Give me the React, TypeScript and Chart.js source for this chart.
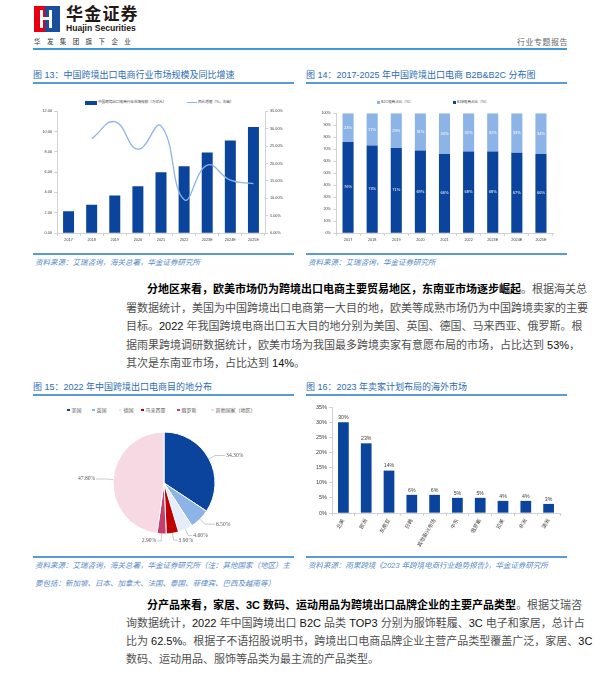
import React, { useEffect, useRef } from 'react';
import { Chart, registerables } from 'chart.js';

Chart.register(...registerables);

// ---------- data ----------
const years = ['2017', '2018', '2019', '2020', '2021', '2022', '2023E', '2024E', '2025E'];
const marketSize = [2.15, 2.78, 3.69, 4.61, 6.0, 6.59, 7.93, 9.13, 10.44];
const growthRate = [null, 27.1, 32.0, 24.1, 30.8, 9.6, 19.5, 15.2, 14.2];

const b2bShare = [76, 73, 71, 69, 66, 68, 68, 67, 66];
const b2cShare = [24, 27, 29, 31, 34, 32, 32, 33, 34];

const destinations = ['美国', '英国', '德国', '马来西亚', '俄罗斯', '其他国家（地区）'];
const destinationShare = [34.3, 6.5, 4.6, 3.9, 2.9, 47.8];

const markets = ['北美', '欧洲', '东南亚', '日韩', '其他新兴市场', '中东', '俄罗斯', '拉美', '非洲', '澳洲'];
const marketShare = [30, 23, 14, 6, 6, 5, 5, 4, 4, 3];

// ---------- styles ----------
const DARK = '#0a449c';
const LIGHT = '#8db4e6';
const PIE_COLORS = ['#0a449c', '#8db4e6', '#e4edf9', '#c00000', '#c63f6c', '#f7d9e3'];
const AXIS = '#bfbfbf';
const TICK = '#404040';
const LATIN = '"Liberation Sans", "Noto Sans CJK SC", sans-serif';
const CJK = '"Liberation Sans", "Noto Sans CJK SC", sans-serif';
const TITLE_BLUE = '#2b6cb3';
const LINE_BLUE = '#5b9bd5';
const SRC_BLUE = '#5a8bc6';

// ---------- plugins ----------
const valueLabelPlugin = {
  id: 'valueLabels',
  afterDatasetsDraw(chart: any, _args: any, opts: any) {
    if (!opts || !opts.enabled) return;
    const ctx = chart.ctx;
    ctx.save();
    ctx.font = `${opts.size}px ${LATIN}`;
    ctx.fillStyle = opts.color;
    ctx.textAlign = 'center';
    chart.data.datasets.forEach((ds: any, di: number) => {
      const meta = chart.getDatasetMeta(di);
      meta.data.forEach((el: any, i: number) => {
        const v = ds.data[i];
        const p = el.getProps(['x', 'y', 'base'], true);
        if (opts.position === 'center') {
          ctx.textBaseline = 'middle';
          ctx.fillText(v + '%', p.x, (p.y + p.base) / 2);
        } else {
          ctx.textBaseline = 'bottom';
          ctx.fillText(v + '%', p.x, p.y - 2);
        }
      });
    });
    ctx.restore();
  },
};

const pieLabelPlugin = {
  id: 'pieLabels',
  afterDatasetsDraw(chart: any, _args: any, opts: any) {
    if (!opts || !opts.enabled) return;
    const ctx = chart.ctx;
    const ds = chart.data.datasets[0];
    const meta = chart.getDatasetMeta(0);
    ctx.save();
    ctx.font = `${opts.size}px "Liberation Serif", serif`;
    ctx.fillStyle = '#595959';
    ctx.strokeStyle = '#a6a6a6';
    ctx.lineWidth = 0.6;
    meta.data.forEach((arc: any, i: number) => {
      const p = arc.getProps(['x', 'y', 'startAngle', 'endAngle', 'outerRadius'], true);
      const mid = (p.startAngle + p.endAngle) / 2;
      const c = Math.cos(mid);
      const s = Math.sin(mid);
      const x1 = p.x + c * p.outerRadius;
      const y1 = p.y + s * p.outerRadius;
      const x2 = p.x + c * (p.outerRadius + 7);
      const y2 = p.y + s * (p.outerRadius + 7);
      const right = c >= 0;
      const h = Math.abs(c) > 0.5 ? 10 : 4;
      const x3 = x2 + (right ? h : -h);
      ctx.beginPath();
      ctx.moveTo(x1, y1);
      ctx.lineTo(x2, y2);
      ctx.lineTo(x3, y2);
      ctx.stroke();
      ctx.textAlign = right ? 'left' : 'right';
      ctx.textBaseline = 'middle';
      ctx.fillText(Number(ds.data[i]).toFixed(2) + '%', x3 + (right ? 1 : -1), y2);
    });
    ctx.restore();
  },
};

// ---------- chart canvas ----------
function ChartBox({ make, left, top, width, height }: any) {
  const ref = useRef<HTMLCanvasElement>(null);
  useEffect(() => {
    const chart = new Chart(ref.current as HTMLCanvasElement, make());
    return () => chart.destroy();
  }, []);
  return (
    <canvas
      ref={ref}
      width={width}
      height={height}
      style={{ position: 'absolute', left, top, width, height }}
    />
  );
}

const axisCommon = (size: number) => ({
  grid: { drawOnChartArea: false, color: AXIS, tickLength: 3, lineWidth: 0.7 },
  border: { color: AXIS, width: 0.7 },
  ticks: { font: { size, family: LATIN }, color: TICK, padding: 2 },
});

function makeSizeChart(): any {
  return {
    type: 'bar',
    data: {
      labels: years,
      datasets: [
        {
          type: 'line',
          label: '同比增速（%，右轴）',
          data: growthRate,
          borderColor: LIGHT,
          borderWidth: 1.3,
          pointRadius: 0,
          tension: 0.45,
          yAxisID: 'y1',
          order: 1,
        },
        {
          type: 'bar',
          label: '中国跨境出口电商行业市场规模（万亿元）',
          data: marketSize,
          backgroundColor: DARK,
          categoryPercentage: 0.5,
          barPercentage: 0.95,
          yAxisID: 'y',
          order: 2,
        },
      ],
    },
    options: {
      animation: false,
      responsive: false,
      layout: { padding: { top: 4, left: 0, right: 0, bottom: 0 } },
      plugins: { legend: { display: false }, tooltip: { enabled: false } },
      scales: {
        x: {
          ...axisCommon(3.8),
          ticks: { ...axisCommon(3.8).ticks, maxRotation: 0, autoSkip: false },
          afterFit: (s: any) => { s.height = 13; },
        },
        y: {
          ...axisCommon(3.8),
          min: 0,
          max: 12,
          ticks: { ...axisCommon(3.8).ticks, stepSize: 2, callback: (v: any) => Number(v).toFixed(2) },
          afterFit: (s: any) => { s.width = 24; },
        },
        y1: {
          ...axisCommon(3.8),
          position: 'right',
          min: 0,
          max: 35,
          ticks: { ...axisCommon(3.8).ticks, stepSize: 5, callback: (v: any) => Number(v).toFixed(2) + '%' },
          afterFit: (s: any) => { s.width = 28; },
        },
      },
    },
  };
}

function makeShareChart(): any {
  return {
    type: 'bar',
    data: {
      labels: years,
      datasets: [
        { label: 'B2B电商占比（%）', data: b2bShare, backgroundColor: DARK, categoryPercentage: 0.46, barPercentage: 1 },
        { label: 'B2C电商占比（%）', data: b2cShare, backgroundColor: LIGHT, categoryPercentage: 0.46, barPercentage: 1 },
      ],
    },
    plugins: [valueLabelPlugin],
    options: {
      animation: false,
      responsive: false,
      layout: { padding: { top: 4, left: 0, right: 13, bottom: 0 } },
      plugins: {
        legend: { display: false },
        tooltip: { enabled: false },
        valueLabels: { enabled: true, position: 'center', color: '#ffffff', size: 4 },
      },
      scales: {
        x: {
          ...axisCommon(3.8),
          stacked: true,
          ticks: { ...axisCommon(3.8).ticks, maxRotation: 0, autoSkip: false },
          afterFit: (s: any) => { s.height = 13; },
        },
        y: {
          ...axisCommon(3.8),
          stacked: true,
          min: 0,
          max: 100,
          ticks: { ...axisCommon(3.8).ticks, stepSize: 10, callback: (v: any) => v + '%' },
          afterFit: (s: any) => { s.width = 30; },
        },
      },
    },
  };
}

function makePieChart(): any {
  return {
    type: 'pie',
    data: {
      labels: destinations,
      datasets: [
        {
          data: destinationShare,
          backgroundColor: PIE_COLORS,
          borderColor: '#ffffff',
          borderWidth: 1,
          radius: 51,
        },
      ],
    },
    plugins: [pieLabelPlugin],
    options: {
      animation: false,
      responsive: false,
      layout: { padding: 0 },
      plugins: {
        legend: { display: false },
        tooltip: { enabled: false },
        pieLabels: { enabled: true, size: 5.6 },
      },
    },
  };
}

function makeMarketChart(): any {
  return {
    type: 'bar',
    data: {
      labels: markets,
      datasets: [
        { label: '占比', data: marketShare, backgroundColor: DARK, categoryPercentage: 0.47, barPercentage: 1 },
      ],
    },
    plugins: [valueLabelPlugin],
    options: {
      animation: false,
      responsive: false,
      layout: { padding: { top: 6, left: 0, right: 8, bottom: 0 } },
      plugins: {
        legend: { display: false },
        tooltip: { enabled: false },
        valueLabels: { enabled: true, position: 'top', color: '#404040', size: 5.2 },
      },
      scales: {
        x: {
          ...axisCommon(5.2),
          ticks: { ...axisCommon(5.2).ticks, minRotation: 60, maxRotation: 60, autoSkip: false },
          afterFit: (s: any) => { s.height = 45; },
        },
        y: {
          ...axisCommon(5.5),
          min: 0,
          max: 35,
          ticks: { ...axisCommon(5.5).ticks, stepSize: 5, callback: (v: any) => v + '%' },
          afterFit: (s: any) => { s.width = 26; },
        },
      },
    },
  };
}

// ---------- text helpers ----------
const abs = (left: number, top: number, extra: any = {}) => ({ position: 'absolute' as const, left, top, ...extra });

function Title({ left, top, width, children }: any) {
  return (
    <>
      <div style={abs(left, top, { width, fontSize: 9, lineHeight: '12px', color: TITLE_BLUE, whiteSpace: 'nowrap', fontFamily: CJK })}>
        {children}
      </div>
      <div style={abs(left, top + 13, { width, height: 1.5, background: LINE_BLUE })} />
    </>
  );
}

function Source({ left, top, width, lines }: any) {
  return (
    <>
      <div style={abs(left, top, { width, height: 1.5, background: LINE_BLUE })} />
      {lines.map((t: string, i: number) => (
        <div
          key={i}
          style={abs(left + 2, top + 5 + i * 17.5, {
            fontSize: 7.5,
            lineHeight: '10px',
            color: SRC_BLUE,
            fontStyle: 'italic',
            whiteSpace: 'nowrap',
            fontFamily: CJK,
          })}
        >
          {t}
        </div>
      ))}
    </>
  );
}

function BodyLine({ top, left = 126, width = 441, justify = true, children }: any) {
  return (
    <div
      style={abs(left, top, {
        width,
        fontSize: 11,
        lineHeight: '14px',
        color: '#505050',
        textAlign: justify ? 'justify' : 'left',
        textAlignLast: justify ? 'justify' : 'left',
        whiteSpace: 'nowrap',
        fontFamily: CJK,
      })}
    >
      {children}
    </div>
  );
}

const B = ({ children }: any) => <span style={{ fontWeight: 700, color: '#000' }}>{children}</span>;
const N = ({ children }: any) => <span style={{ color: '#111' }}>{children}</span>;

function LegendItem({ left, top, swatch, text }: any) {
  return (
    <div style={abs(left, top, { display: 'flex', alignItems: 'center', whiteSpace: 'nowrap' })}>
      {swatch}
      <span style={{ fontSize: 3.6, color: '#404040', marginLeft: 1, lineHeight: '5px', fontFamily: CJK }}>{text}</span>
    </div>
  );
}

function PieLegend() {
  const xs = [67, 92, 119, 141, 177, 211];
  return (
    <>
      {destinations.map((d, i) => (
        <div key={d} style={abs(xs[i], 406, { display: 'flex', alignItems: 'center', whiteSpace: 'nowrap' })}>
          <span style={{ display: 'inline-block', width: 2.5, height: 2.5, background: PIE_COLORS[i] }} />
          <span style={{ fontSize: 5, color: '#595959', marginLeft: 2, lineHeight: '8px', fontFamily: CJK }}>{d}</span>
        </div>
      ))}
    </>
  );
}

function Header() {
  return (
    <>
      <svg style={abs(34, 6)} width={26} height={26} viewBox="0 0 26 26">
        <rect x={0} y={0} width={11} height={26} fill="#e60012" />
        <rect x={11} y={0} width={15} height={26} fill="#1d4e9e" />
        <rect x={6} y={4} width={3} height={18} fill="#fff" />
        <rect x={15} y={4} width={3} height={18} fill="#fff" />
        <rect x={9} y={11} width={6} height={3} fill="#fff" />
      </svg>
      <div style={abs(66, 3, { fontSize: 17, fontWeight: 700, color: '#231815', letterSpacing: 1.2, lineHeight: '20px', fontFamily: '"Noto Sans CJK SC"' })}>
        华金证券
      </div>
      <div style={abs(66, 23, { fontSize: 8.6, fontWeight: 700, color: '#231815', lineHeight: '10px', fontFamily: '"Liberation Sans"' })}>
        Huajin Securities
      </div>
      <div style={abs(34, 37, { fontSize: 6.5, color: '#333', letterSpacing: 6.4, lineHeight: '8px', fontFamily: '"Noto Sans CJK SC"' })}>
        华发集团旗下企业
      </div>
      <div style={abs(517, 37, { fontSize: 8, color: '#666', letterSpacing: 0.5, lineHeight: '10px', fontFamily: '"Noto Sans CJK SC"' })}>
        行业专题报告
      </div>
      <div style={abs(33, 48, { width: 534, height: 1.5, background: '#3d9ad6' })} />
    </>
  );
}

export default function App() {
  return (
    <div style={{ position: 'absolute', left: 0, top: 0, width: 600, height: 697, background: '#fff', overflow: 'hidden', fontFamily: CJK }}>
      <Header />

      {/* Figure 13 */}
      <Title left={33} top={69} width={261}>图 13：中国跨境出口电商行业市场规模及同比增速</Title>
      <LegendItem left={85} top={100} swatch={<span style={{ display: 'inline-block', width: 12, height: 4, background: DARK }} />} text="中国跨境出口电商行业市场规模（万亿元）" />
      <LegendItem left={187} top={100} swatch={<span style={{ display: 'inline-block', width: 10, height: 1.2, background: LIGHT }} />} text="同比增速（%，右轴）" />
      <ChartBox make={makeSizeChart} left={33} top={107} width={260} height={139} />
      <Source left={33} top={253} width={261} lines={['资料来源：艾瑞咨询，海关总署，华金证券研究所']} />

      {/* Figure 14 */}
      <Title left={306} top={69} width={261}>图 14：2017-2025 年中国跨境出口电商 B2B&amp;B2C 分布图</Title>
      <LegendItem left={377} top={100} swatch={<span style={{ display: 'inline-block', width: 3, height: 3, background: LIGHT }} />} text="B2C电商占比（%）" />
      <LegendItem left={453} top={100} swatch={<span style={{ display: 'inline-block', width: 3, height: 3, background: DARK }} />} text="B2B电商占比（%）" />
      <ChartBox make={makeShareChart} left={306} top={109} width={260} height={137} />
      <Source left={306} top={253} width={261} lines={['资料来源：艾瑞咨询，华金证券研究所']} />

      {/* Paragraph 1 */}
      <BodyLine top={282} left={147} width={420}>
        <B>分地区来看，欧美市场仍为跨境出口电商主要贸易地区，东南亚市场逐步崛起</B>。根据海关总
      </BodyLine>
      <BodyLine top={300.5}>署数据统计，美国为中国跨境出口电商第一大目的地，欧美等成熟市场仍为中国跨境卖家的主要</BodyLine>
      <BodyLine top={319}>目标。<N>2022</N> 年我国跨境电商出口五大目的地分别为美国、英国、德国、马来西亚、俄罗斯。根</BodyLine>
      <BodyLine top={337.5}>据雨果跨境调研数据统计，欧美市场为我国最多跨境卖家有意愿布局的市场，占比达到 <N>53%</N>，</BodyLine>
      <BodyLine top={356} justify={false}>其次是东南亚市场，占比达到 <N>14%</N>。</BodyLine>

      {/* Figure 15 */}
      <Title left={33} top={381} width={261}>图 15：2022 年中国跨境出口电商目的地分布</Title>
      <PieLegend />
      <ChartBox make={makePieChart} left={33} top={420} width={262} height={126} />
      <Source
        left={33}
        top={556}
        width={261}
        lines={['资料来源：艾瑞咨询，海关总署，华金证券研究所（注：其他国家（地区）主', '要包括：新加坡、日本、加拿大、法国、泰国、菲律宾、巴西及越南等）']}
      />

      {/* Figure 16 */}
      <Title left={306} top={381} width={261}>图 16：2023 年卖家计划布局的海外市场</Title>
      <ChartBox make={makeMarketChart} left={306} top={401} width={262} height={157} />
      <Source left={306} top={556} width={261} lines={['资料来源：雨果跨境《2023 年跨境电商行业趋势报告》，华金证券研究所']} />

      {/* Paragraph 2 */}
      <BodyLine top={598} left={147} width={420}>
        <B>分产品来看，家居、3C 数码、运动用品为跨境出口品牌企业的主要产品类型</B>。根据艾瑞咨
      </BodyLine>
      <BodyLine top={616}>询数据统计，<N>2022</N> 年中国跨境出口 <N>B2C</N> 品类 <N>TOP3</N> 分别为服饰鞋履、<N>3C</N> 电子和家居，总计占</BodyLine>
      <BodyLine top={634}>比为 <N>62.5%</N>。根据子不语招股说明书，跨境出口电商品牌企业主营产品类型覆盖广泛，家居、<N>3C</N></BodyLine>
      <BodyLine top={652} justify={false}>数码、运动用品、服饰等品类为最主流的产品类型。</BodyLine>
    </div>
  );
}
